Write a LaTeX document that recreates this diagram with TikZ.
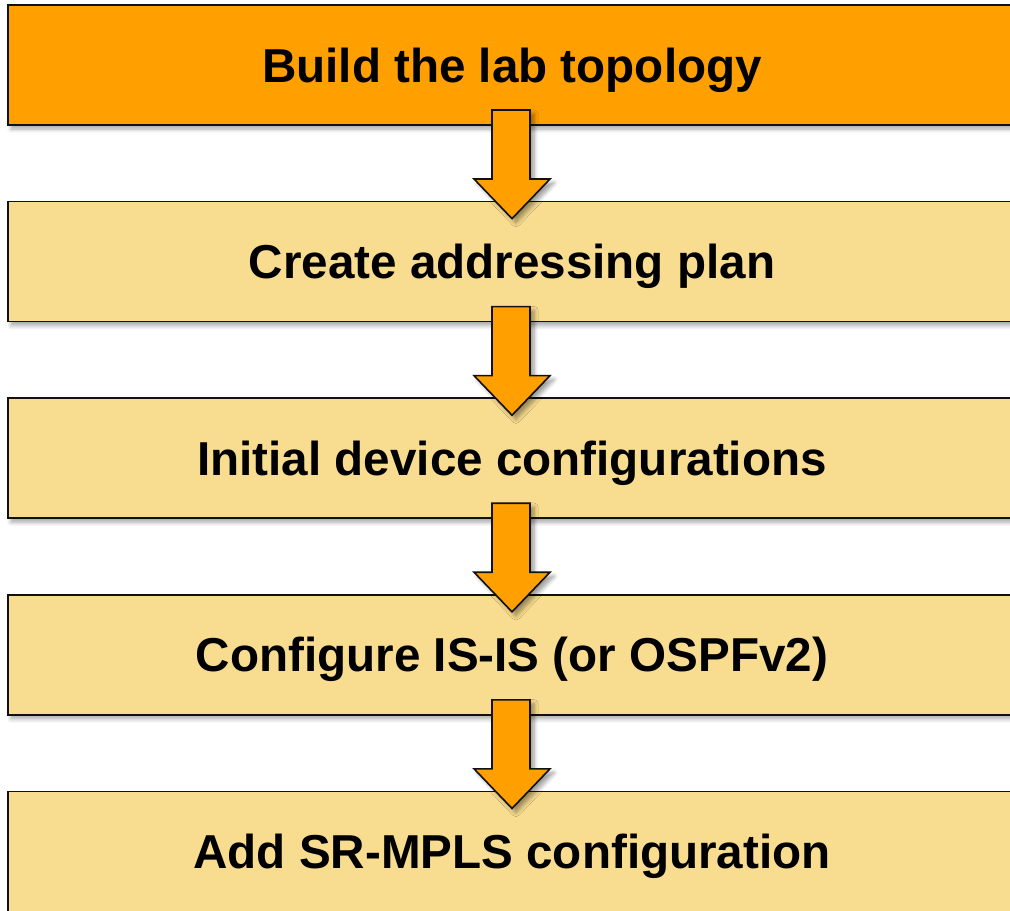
\documentclass[tikz,border=0pt]{standalone}
\usepackage{fontspec}
\setmainfont{Liberation Sans}
\usepackage{tikz}
\usetikzlibrary{positioning,calc,shadows.blur}
\definecolor{flOrange}{HTML}{FFA000}
\definecolor{flSand}{HTML}{F8DC90}
\definecolor{flInk}{HTML}{111111}
\tikzset{
  % Step box (sand)
  stepbox/.style={rectangle,minimum width=504pt,minimum height=60pt,
    inner sep=0pt,outer sep=0pt,draw=flInk,line width=0.8pt,fill=flSand,
    font=\fontsize{23.8}{28}\selectfont\bfseries,text=black,
    text height=17pt,text depth=0pt,
    blur shadow={shadow xshift=1.5pt,shadow yshift=-2pt,
      shadow blur steps=6,shadow opacity=35}},
  % First box (orange)
  topbox/.style={stepbox,fill=flOrange},
  % Block arrow
  blockarr/.style={draw=flInk,line width=0.8pt,fill=flOrange,
    line join=miter,
    blur shadow={shadow xshift=2pt,shadow yshift=-2pt,
      shadow blur steps=6,shadow opacity=40}},
}
% block arrow from one box down to the next
\newcommand{\flowarrow}[2]{%
  \draw[blockarr] ($(#1.south)+(-20,15)$) -- ($(#1.south)+(-20,-54)$)
    -- ($(#1.south)+(-38,-54)$) -- ($(#2.north)+(0,-17)$)
    -- ($(#1.south)+(38,-54)$) -- ($(#1.south)+(18,-54)$)
    -- ($(#1.south)+(18,15)$) -- cycle;}

\begin{document}
\begin{tikzpicture}[x=0.5pt,y=0.5pt,node distance=38.3pt]
  \path[use as bounding box,clip] (0,0) rectangle (1010,-910);

  \node[topbox] (topo) at (512,-65) {Build the lab topology};
  \node[stepbox,below=of topo] (addr) {Create addressing plan};
  \node[stepbox,below=of addr] (init) {Initial device configurations};
  \node[stepbox,below=of init] (isis) {Configure IS-IS (or OSPFv2)};
  \node[stepbox,below=of isis] (srmpls) {Add SR-MPLS configuration};

  \flowarrow{topo}{addr}
  \flowarrow{addr}{init}
  \flowarrow{init}{isis}
  \flowarrow{isis}{srmpls}
\end{tikzpicture}
\end{document}
